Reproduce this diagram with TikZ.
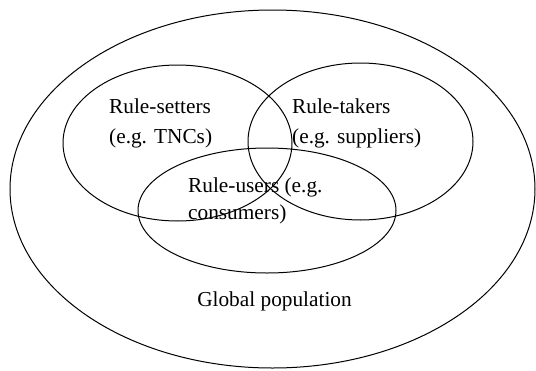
\documentclass[tikz,border=0pt]{standalone}
\usepackage{fontspec}
\setmainfont{Liberation Serif}
\usepackage{tikz}
\usepackage{tkz-euclide}
\usepackage{xcolor}

\tikzset{
    set line/.style={line width=1pt},
    set label/.style={font=\fontsize{21.3}{30}\selectfont, align=left, anchor=west, inner sep=0pt}
}

\begin{document}
\begin{tikzpicture}[x=1pt,y=-1pt]
    \useasboundingbox (0,0) rectangle (536,370);
    \tkzDefPoints{272.5/189/O,177.5/143/S,360.5/141.5/T,267/210.5/U}
    % \tkzDrawPoints(O,S,T,U)
    \draw[set line] (O) ellipse [x radius=262.5pt, y radius=179pt];
    \draw[set line] (S) ellipse [x radius=114.5pt, y radius=78pt];
    \draw[set line] (T) ellipse [x radius=112.5pt, y radius=78.5pt];
    \draw[set line] (U) ellipse [x radius=129pt, y radius=62.5pt];
    \node[set label] (setters) at (109,123) {Rule-setters\\(e.g. TNCs)};
    \node[set label] (takers) at (292,123) {Rule-takers\\(e.g. suppliers)};
    \node[set label] (users) at (188,201) {Rule-users (e.g.\\[-3pt]consumers)};
    \node[set label, anchor=center] (global) at (274.5,301) {Global population};
\end{tikzpicture}
\end{document}
